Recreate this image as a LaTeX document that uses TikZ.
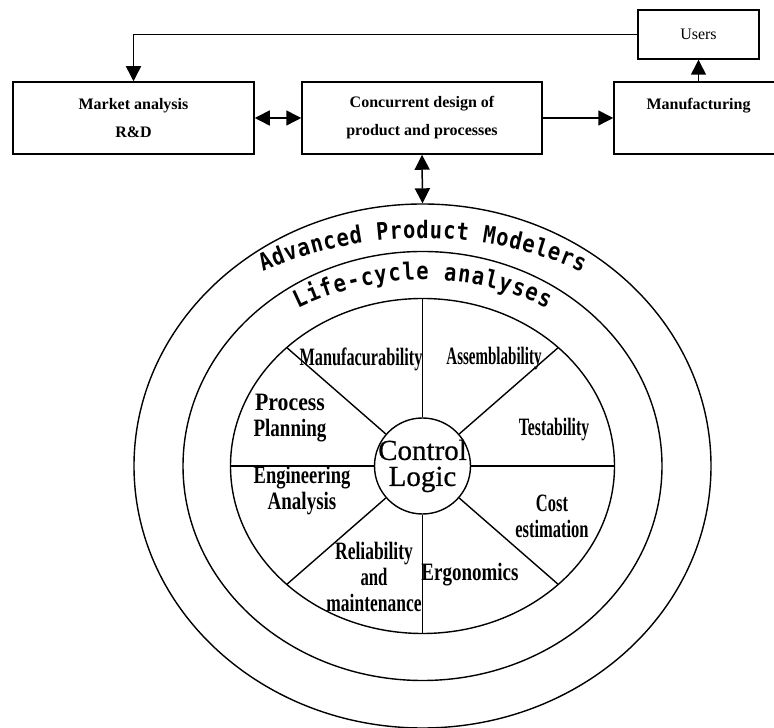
\documentclass[tikz,border=0pt]{standalone}
\usepackage{fontspec}
\usepackage{graphicx}
\setmainfont{Liberation Serif}
\newfontfamily\arcfam{DejaVu Sans Mono}[FakeStretch=0.85]
\newfontfamily\ctlfam{Liberation Serif}[FakeBold=0.6]
\usetikzlibrary{arrows.meta,shapes.geometric,calc,decorations.text}

% horizontally squeezed text line
\newcommand\sx[2]{\scalebox{#1}[1]{#2}}
\newcommand\arcfont{\arcfam\bfseries\fontsize{24pt}{24pt}\selectfont}

\tikzset{
  box/.style={draw, line width=1.5pt, inner sep=0pt, align=center,
    font=\bfseries\fontsize{16pt}{28pt}\selectfont},
  ring/.style={draw, ellipse, line width=1.4pt, inner sep=0pt},
  spoke/.style={line width=1.4pt},
  tip/.tip={Triangle[length=15pt,width=15pt]},
  arr/.style={line width=1.5pt, -tip},
  darr/.style={line width=1.5pt, tip-tip},
  lbl/.style={font=\bfseries\fontsize{25pt}{26pt}\selectfont, align=center, inner sep=0pt},
}

\begin{document}
\begin{tikzpicture}[x=1pt,y=1pt]
\useasboundingbox (0,0) rectangle (774,728);

% ---------- process chain ----------
\node[box, minimum width=241pt, minimum height=72pt] (market) at (133.5,610)
  {Market analysis\\R\&D};
\node[box, minimum width=240pt, minimum height=72pt] (conc) at (422,610)
  {Concurrent design of\\product and processes};
\node[box, minimum width=169pt, minimum height=72pt] (manu) at (698.5,610)
  {Manufacturing\\\phantom{M}};
\node[box, font=\fontsize{16pt}{18pt}\selectfont, minimum width=121pt, minimum height=49pt]
  (users) at (698.5,693.5) {Users};

\draw[darr] (market.east) -- (conc.west);
\draw[arr] (conc.east) -- (manu.west);
\draw[arr] (manu.north) -- (users.south);
\draw[arr] (users.west) -| (market.north);

% ---------- modeler rings ----------
\coordinate (C) at (422.5,262);
\node[ring, minimum width=577pt, minimum height=524pt] (outer) at (C) {};
\node[ring, minimum width=479pt, minimum height=429pt] (middle) at (C) {};
\node[ring, minimum width=384pt, minimum height=335pt] (inner) at (C) {};
\node[circle, draw, line width=1.4pt, minimum size=96pt, inner sep=0pt] (ctl) at (C) {};

\draw[darr] (conc.south) -- (outer.north);

\foreach \a in {0,45,90,135,180,225,270,315}
  \draw[spoke] ($(C)+(\a:192pt and 167.5pt)$) -- (ctl);

% ---------- arched titles ----------
\path[decorate, decoration={text along path, text align={fit to path},
    text={|\arcfont|Advanced Product Modelers}}]
  ($(C)+(121.5:305pt and 227.5pt)$)
  arc[start angle=121.5, end angle=58.5, x radius=305pt, y radius=227.5pt];
\path[decorate, decoration={text along path, text align={fit to path},
    text={|\arcfont|Life-cycle analyses}}]
  ($(C)+(122:235pt and 186pt)$)
  arc[start angle=122, end angle=58, x radius=235pt, y radius=186pt];

% ---------- wheel sectors ----------
\node[font=\ctlfam\fontsize{29pt}{26pt}\selectfont, align=center, inner sep=0pt] (ctltext) at (C)
  {Control\\Logic};
\node[lbl] (manf) at (361,369) {\sx{0.65}{Manufacurability}};
\node[lbl] (asm) at (494,369) {\sx{0.60}{Assemblability}};
\node[lbl] (proc) at (290,310) {\sx{0.87}{Process}\\\sx{0.76}{Planning}};
\node[lbl] (test) at (554,298) {\sx{0.63}{Testability}};
\node[lbl] (eng) at (302,237.5) {\sx{0.74}{Engineering}\\\sx{0.76}{Analysis}};
\node[lbl] (cost) at (552,211.5) {\sx{0.66}{Cost}\\\sx{0.66}{estimation}};
\node[lbl] (rel) at (374,151.5)
  {\sx{0.70}{Reliability}\\\sx{0.67}{and}\\\sx{0.70}{maintenance}};
\node[lbl] (ergo) at (470,153) {\sx{0.76}{Ergonomics}};
\end{tikzpicture}
\end{document}
